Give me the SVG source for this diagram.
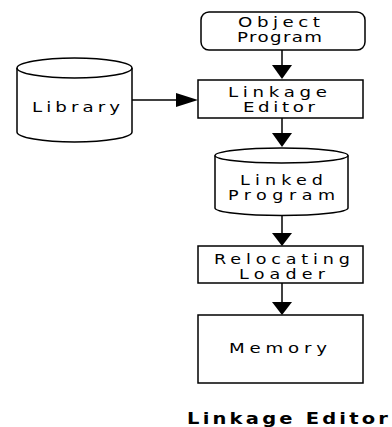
<svg xmlns="http://www.w3.org/2000/svg" width="392" height="427" viewBox="0 0 392 427">
<style>
.s{fill:#fff;stroke:#000;stroke-width:1.5}
.t{font-family:"DejaVu Sans","Verdana",sans-serif;font-size:14px;fill:#000;text-anchor:middle}
.m{font-size:13.5px}
.c{font-family:"DejaVu Sans","Verdana",sans-serif;font-size:15px;font-weight:bold;fill:#000;text-anchor:middle}
.l{stroke:#000;stroke-width:1.5;fill:none}
.h{fill:#000}
</style>
<rect width="392" height="427" fill="#fff"/>
<g id="connectors">
<line class="l" x1="282" y1="50" x2="282" y2="66"/>
<polygon class="h" points="272,65 292,65 282,79"/>
<line class="l" x1="282" y1="118" x2="282" y2="134"/>
<polygon class="h" points="272,133 292,133 282,147"/>
<line class="l" x1="282" y1="215" x2="282" y2="234"/>
<polygon class="h" points="272,233 292,233 282,246"/>
<line class="l" x1="282" y1="283" x2="282" y2="303"/>
<polygon class="h" points="272,302 292,302 282,315"/>
<line class="l" x1="132" y1="100" x2="178" y2="100"/>
<polygon class="h" points="176,93 176,107 198,100"/>
</g>
<g id="object-program">
<rect class="s" x="201" y="12" width="164" height="38" rx="8"/>
<text class="t" transform="translate(279 0) scale(1.3 1)" x="0" y="27.5" textLength="63" lengthAdjust="spacing">Object</text>
<text class="t" transform="translate(279.5 0) scale(1.3 1)" x="0" y="42.5" textLength="65.4" lengthAdjust="spacing">Program</text>
</g>
<g id="linkage-editor">
<rect class="s" x="198" y="80" width="165" height="38"/>
<text class="t" transform="translate(277.5 0) scale(1.3 1)" x="0" y="97" textLength="76.2" lengthAdjust="spacing">Linkage</text>
<text class="t" transform="translate(279 0) scale(1.3 1)" x="0" y="112" textLength="55.4" lengthAdjust="spacing">Editor</text>
</g>
<g id="library">
<path class="s" d="M17,68 L17,132 A57.5,10 0 0 0 132,132 L132,68 A57.5,10 0 0 0 17,68 Z"/>
<path class="l" d="M17,68 A57.5,10 0 0 0 132,68"/>
<text class="t" transform="translate(76 0) scale(1.3 1)" x="0" y="112" textLength="67.7" lengthAdjust="spacing">Library</text>
</g>
<g id="linked-program">
<path class="s" d="M215,155.5 L215,208 A66.5,7.5 0 0 0 348,208 L348,155.5 A66.5,7.5 0 0 0 215,155.5 Z"/>
<path class="l" d="M215,155.5 A66.5,7.5 0 0 0 348,155.5"/>
<text class="t m" transform="translate(281.5 0) scale(1.3 1)" x="0" y="185.5" textLength="63.8" lengthAdjust="spacing">Linked</text>
<text class="t m" transform="translate(281.5 0) scale(1.3 1)" x="0" y="200.5" textLength="82.3" lengthAdjust="spacing">Program</text>
</g>
<g id="relocating-loader">
<rect class="s" x="198" y="246" width="165" height="37"/>
<text class="t m" transform="translate(282 0) scale(1.3 1)" x="0" y="264" textLength="104.6" lengthAdjust="spacing">Relocating</text>
<text class="t m" transform="translate(282 0) scale(1.3 1)" x="0" y="279.5" textLength="66.2" lengthAdjust="spacing">Loader</text>
</g>
<g id="memory">
<rect class="s" x="198" y="315" width="165" height="68"/>
<text class="t" transform="translate(278 0) scale(1.3 1)" x="0" y="353" textLength="75.4" lengthAdjust="spacing">Memory</text>
</g>
<text class="c" transform="translate(287.5 0) scale(1.3 1)" x="0" y="424" textLength="154.6" lengthAdjust="spacing">Linkage Editor</text>
</svg>
